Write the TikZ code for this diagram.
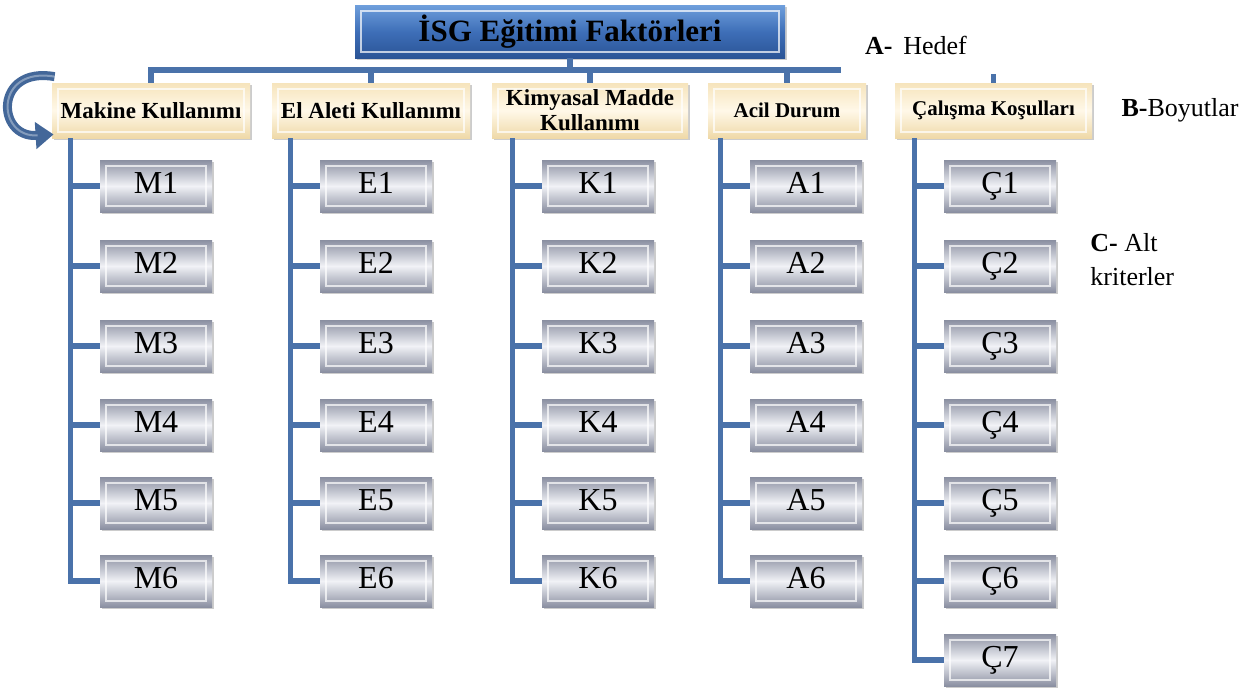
\documentclass[tikz,border=0pt]{standalone}
\usepackage{fontspec}
\setmainfont{Liberation Serif}
\usetikzlibrary{positioning,arrows.meta,calc,shadows}
\definecolor{linkblue}{HTML}{4A72AA}
\definecolor{titletop}{HTML}{6F9FDC}
\definecolor{titlemid}{HTML}{3E6FB8}
\definecolor{titlebot}{HTML}{2A5496}
\definecolor{creamtop}{HTML}{F6E4BC}
\definecolor{creammid}{HTML}{FFF8E8}
\definecolor{creambot}{HTML}{EFD9A8}
\definecolor{grayedge}{HTML}{8A8FA1}
\definecolor{graymid}{HTML}{F1F2F6}

\begin{document}
\begin{tikzpicture}[x=0.5pt,y=-0.5pt,every node/.style={inner sep=0pt}]
    \tikzstyle{bevel}=[path picture={\draw[white,opacity=0.7,line width=0.6pt]
        ([shift={(3pt,-3pt)}]path picture bounding box.north west) rectangle
        ([shift={(-3pt,3pt)}]path picture bounding box.south east);}];
    \tikzstyle{shade}=[drop shadow={shadow xshift=1.2pt,shadow yshift=-1.2pt,fill=black!40,opacity=0.5}];
    \tikzstyle{goal}=[rectangle,shade,bevel,minimum width=215pt,minimum height=26.5pt,
        top color=titletop,bottom color=titlebot,middle color=titlemid,
        font=\fontsize{15.5}{17}\selectfont\bfseries];
    \tikzstyle{dim}=[rectangle,shade,bevel,minimum height=27.5pt,align=center,
        top color=creamtop,bottom color=creambot,middle color=creammid,
        font=\fontsize{11.5}{12.5}\selectfont\bfseries];
    \tikzstyle{sub}=[rectangle,shade,bevel,minimum width=56pt,minimum height=26pt,
        text height=11pt,text depth=3.5pt,
        top color=grayedge,bottom color=grayedge,middle color=graymid,
        font=\fontsize{16}{16}\selectfont];
    \tikzstyle{link}=[draw=linkblue,line width=2.6pt];
    \tikzstyle{note}=[font=\fontsize{13}{17}\selectfont,align=left];
    \useasboundingbox (0,0) rectangle (1259,693);
    % goal
    \node[goal] (isg) at (570,31.5) {İSG Eğitimi Faktörleri};
    % dimensions
    \node[dim,minimum width=99pt] (mk) at (151,110.5) {Makine Kullanımı};
    \node[dim,minimum width=99pt] (ea) at (371,110.5) {El Aleti Kullanımı};
    \node[dim,minimum width=98pt] (km) at (590,110.5) {Kimyasal Madde\\Kullanımı};
    \node[dim,minimum width=79pt,font=\fontsize{10.5}{10.5}\selectfont\bfseries] (ad) at (787,110.5) {Acil Durum};
    \node[dim,minimum width=98.5pt,font=\fontsize{10.5}{10.5}\selectfont\bfseries] (ck) at (993.5,110.5) {Çalışma Koşulları};
    % sub criteria
    \foreach \i/\y in {1/186,2/266,3/346,4/425,5/503,6/581}{
        \node[sub] (m\i) at (156,\y) {M\i};
        \node[sub] (e\i) at (376,\y) {E\i};
        \node[sub] (k\i) at (598,\y) {K\i};
        \node[sub] (a\i) at (806,\y) {A\i};
    }
    \foreach \i/\y in {1/186,2/266,3/346,4/425,5/503,6/581,7/660}
        \node[sub] (c\i) at (1000,\y) {Ç\i};
    % connectors
    \coordinate (busend) at (841,70);
    \draw[link] (mk.north) |- (busend);
    \draw[link] (isg.south) -- (isg.south |- busend);
    \draw[link] (ea.north) -- (ea.north |- busend);
    \draw[link] (km.north) -- (km.north |- busend);
    \draw[link] (ad.north) -- (ad.north |- busend);
    \coordinate (cktick) at ($(ck.north)+(0,-9)$);
    \draw[link] (ck.north) -- (cktick);
    \foreach \p/\q/\n in {mk/m/6,ea/e/6,km/k/6,ad/a/6,ck/c/7}{
        \coordinate (\q t) at ($(\q1.west)+(-29,0)$);
        \draw[link] (\p.south -| \q t) |- (\q\n.west);
        \foreach \i in {1,...,\n}
            \draw[link] (\q\i.west) -- (\q\i.west -| \q t);
    }
    % loop arrow
    \coordinate (arrs) at ($(mk.north west)+(3,-6)$);
    \coordinate (arre) at ($(mk.south west)+(2,-4)$);
    \draw[draw=linkblue!90!black,line width=4.5pt,-{Triangle[length=9pt,width=13pt]}]
        (arrs) .. controls (-6,66) and (-4,138) .. (arre);
    \draw[draw=white,opacity=0.35,line width=1pt,shorten >=8pt]
        (arrs) .. controls (-6,66) and (-4,138) .. (arre);
    % level notes
    \node[note] (lvA) at (916,45) {\textbf{A-}\, Hedef};
    \node[note] (lvB) at (1180,110) {\textbf{B-}Boyutlar};
    \node[note,anchor=west] (lvC) at (1090,260) {\textbf{C-} Alt\\kriterler};
\end{tikzpicture}
\end{document}
